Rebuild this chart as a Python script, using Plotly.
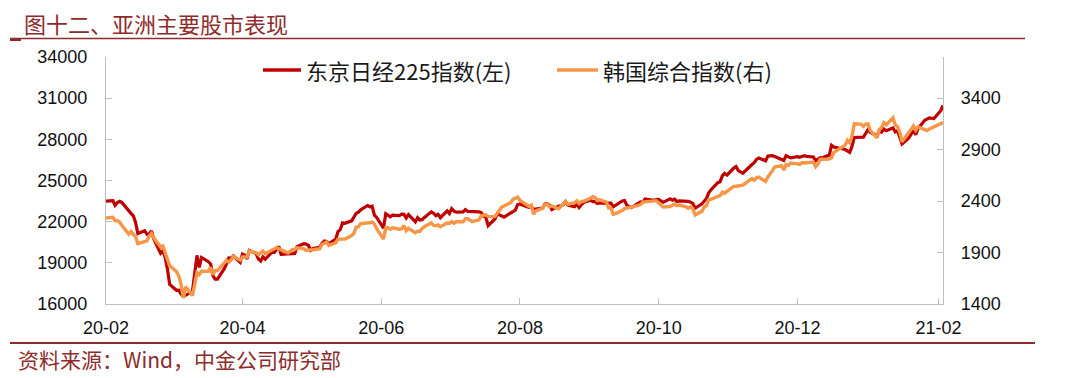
import plotly.graph_objects as go

# ---------------- data ----------------
nikkei_dates = [
"2020-02-14","2020-02-17","2020-02-18","2020-02-19","2020-02-20","2020-02-21","2020-02-25","2020-02-26","2020-02-27","2020-02-28",
"2020-03-02","2020-03-03","2020-03-04","2020-03-05","2020-03-06","2020-03-09","2020-03-10","2020-03-11","2020-03-12","2020-03-13",
"2020-03-16","2020-03-17","2020-03-18","2020-03-19","2020-03-23","2020-03-24","2020-03-25","2020-03-26","2020-03-27","2020-03-30","2020-03-31",
"2020-04-01","2020-04-02","2020-04-03","2020-04-06","2020-04-07","2020-04-08","2020-04-09","2020-04-10","2020-04-13","2020-04-14",
"2020-04-15","2020-04-16","2020-04-17","2020-04-20","2020-04-21","2020-04-22","2020-04-23","2020-04-24","2020-04-27","2020-04-28","2020-04-30",
"2020-05-01","2020-05-07","2020-05-08","2020-05-11","2020-05-12","2020-05-13","2020-05-14","2020-05-15","2020-05-18","2020-05-19",
"2020-05-20","2020-05-21","2020-05-22","2020-05-25","2020-05-26","2020-05-27","2020-05-28","2020-05-29",
"2020-06-01","2020-06-02","2020-06-03","2020-06-04","2020-06-05","2020-06-08","2020-06-09","2020-06-10","2020-06-11","2020-06-12",
"2020-06-15","2020-06-16","2020-06-17","2020-06-18","2020-06-19","2020-06-22","2020-06-23","2020-06-24","2020-06-25","2020-06-26","2020-06-29","2020-06-30",
"2020-07-01","2020-07-02","2020-07-03","2020-07-06","2020-07-07","2020-07-08","2020-07-09","2020-07-10","2020-07-13","2020-07-14",
"2020-07-15","2020-07-16","2020-07-17","2020-07-20","2020-07-21","2020-07-22","2020-07-27","2020-07-28","2020-07-29","2020-07-30","2020-07-31",
"2020-08-03","2020-08-04","2020-08-05","2020-08-06","2020-08-07","2020-08-11","2020-08-12","2020-08-13","2020-08-14","2020-08-17",
"2020-08-18","2020-08-19","2020-08-20","2020-08-21","2020-08-24","2020-08-25","2020-08-26","2020-08-27","2020-08-28","2020-08-31",
"2020-09-01","2020-09-02","2020-09-03","2020-09-04","2020-09-07","2020-09-08","2020-09-09","2020-09-10","2020-09-11","2020-09-14",
"2020-09-15","2020-09-16","2020-09-17","2020-09-18","2020-09-23","2020-09-24","2020-09-25","2020-09-28","2020-09-29","2020-09-30",
"2020-10-02","2020-10-05","2020-10-06","2020-10-07","2020-10-08","2020-10-09","2020-10-12","2020-10-13","2020-10-14","2020-10-15",
"2020-10-16","2020-10-19","2020-10-20","2020-10-21","2020-10-22","2020-10-23","2020-10-26","2020-10-27","2020-10-28","2020-10-29","2020-10-30",
"2020-11-02","2020-11-04","2020-11-05","2020-11-06","2020-11-09","2020-11-10","2020-11-11","2020-11-12","2020-11-13","2020-11-16",
"2020-11-17","2020-11-18","2020-11-19","2020-11-20","2020-11-24","2020-11-25","2020-11-26","2020-11-27","2020-11-30",
"2020-12-01","2020-12-02","2020-12-03","2020-12-04","2020-12-07","2020-12-08","2020-12-09","2020-12-10","2020-12-11","2020-12-14",
"2020-12-15","2020-12-16","2020-12-17","2020-12-18","2020-12-21","2020-12-22","2020-12-23","2020-12-24","2020-12-25","2020-12-28","2020-12-29","2020-12-30",
"2021-01-04","2021-01-05","2021-01-06","2021-01-07","2021-01-08","2021-01-12","2021-01-13","2021-01-14","2021-01-15","2021-01-18",
"2021-01-19","2021-01-20","2021-01-21","2021-01-22","2021-01-25","2021-01-26","2021-01-27","2021-01-28","2021-01-29",
"2021-02-01","2021-02-02","2021-02-03","2021-02-04","2021-02-05","2021-02-08","2021-02-09","2021-02-10","2021-02-12","2021-02-15","2021-02-16",
]
nikkei_close = [
23500,23523,23194,23401,23479,23387,22605,22426,21948,21143,
21344,21083,21100,21329,20750,19699,19867,19416,18560,17431,
17002,17012,16727,16553,16888,18092,19547,18665,19389,19085,18917,
18065,17819,17820,18576,18950,19353,19346,19499,19043,19639,
19550,19290,19897,19669,19281,19138,19429,19262,19783,19771,20194,
19619,19675,20179,20391,20366,20267,19915,20037,20134,20433,
20595,20552,20388,20742,21271,21419,21916,21878,
22062,22326,22614,22696,22864,23178,23091,23125,22473,22305,
21531,22582,22456,22355,22479,22437,22549,22534,22260,22512,21995,22288,
22122,22146,22306,22714,22615,22439,22529,22291,22785,22587,
22946,22770,22696,22717,22884,22752,22716,22657,22397,22339,21710,
22195,22574,22515,22418,22330,22750,22844,23250,23289,23097,
23051,23111,22881,22920,22986,23297,23291,23209,22883,23140,
23138,23247,23466,23205,23090,23274,23033,23235,23406,23559,
23455,23476,23319,23360,23346,23088,23205,23512,23539,23185,
23030,23312,23434,23423,23647,23620,23559,23602,23627,23507,
23411,23671,23567,23639,23474,23517,23494,23486,23419,23332,22977,
23295,23695,24105,24325,24840,24906,25350,25521,25386,25907,
26015,25728,25634,25527,26166,26297,26537,26645,26434,
26788,26801,26809,26751,26547,26467,26818,26756,26653,26732,
26688,26757,26807,26763,26714,26436,26525,26668,26657,26854,27568,27444,
27258,27159,27056,27490,28139,28164,28457,28698,28519,28242,
28633,28523,28757,28631,28822,28546,28635,28197,27663,
28091,28362,28647,28342,28779,29389,29506,29563,29520,30084,30468,
]

kospi_dates = [
"2020-02-14","2020-02-17","2020-02-18","2020-02-19","2020-02-20","2020-02-21","2020-02-24","2020-02-25","2020-02-26","2020-02-27","2020-02-28",
"2020-03-02","2020-03-03","2020-03-04","2020-03-05","2020-03-06","2020-03-09","2020-03-10","2020-03-11","2020-03-12","2020-03-13",
"2020-03-16","2020-03-17","2020-03-18","2020-03-19","2020-03-20","2020-03-23","2020-03-24","2020-03-25","2020-03-26","2020-03-27","2020-03-30","2020-03-31",
"2020-04-01","2020-04-02","2020-04-03","2020-04-06","2020-04-07","2020-04-08","2020-04-09","2020-04-10","2020-04-13","2020-04-14",
"2020-04-16","2020-04-17","2020-04-20","2020-04-21","2020-04-22","2020-04-23","2020-04-24","2020-04-27","2020-04-28","2020-04-29",
"2020-05-04","2020-05-06","2020-05-07","2020-05-08","2020-05-11","2020-05-12","2020-05-13","2020-05-14","2020-05-15","2020-05-18",
"2020-05-19","2020-05-20","2020-05-21","2020-05-22","2020-05-25","2020-05-26","2020-05-27","2020-05-28","2020-05-29",
"2020-06-01","2020-06-02","2020-06-03","2020-06-04","2020-06-05","2020-06-08","2020-06-09","2020-06-10","2020-06-11","2020-06-12",
"2020-06-15","2020-06-16","2020-06-17","2020-06-18","2020-06-19","2020-06-22","2020-06-23","2020-06-24","2020-06-25","2020-06-26","2020-06-29","2020-06-30",
"2020-07-01","2020-07-02","2020-07-03","2020-07-06","2020-07-07","2020-07-08","2020-07-09","2020-07-10","2020-07-13","2020-07-14",
"2020-07-15","2020-07-16","2020-07-17","2020-07-20","2020-07-21","2020-07-22","2020-07-23","2020-07-24","2020-07-27","2020-07-28",
"2020-07-29","2020-07-30","2020-07-31",
"2020-08-03","2020-08-04","2020-08-05","2020-08-06","2020-08-07","2020-08-10","2020-08-11","2020-08-12","2020-08-13","2020-08-14",
"2020-08-18","2020-08-19","2020-08-20","2020-08-21","2020-08-24","2020-08-25","2020-08-26","2020-08-27","2020-08-28","2020-08-31",
"2020-09-01","2020-09-02","2020-09-03","2020-09-04","2020-09-07","2020-09-08","2020-09-09","2020-09-10","2020-09-11","2020-09-14",
"2020-09-15","2020-09-16","2020-09-17","2020-09-18","2020-09-21","2020-09-22","2020-09-23","2020-09-24","2020-09-25","2020-09-28","2020-09-29",
"2020-10-05","2020-10-06","2020-10-07","2020-10-08","2020-10-12","2020-10-13","2020-10-14","2020-10-15","2020-10-16","2020-10-19",
"2020-10-20","2020-10-21","2020-10-22","2020-10-23","2020-10-26","2020-10-27","2020-10-28","2020-10-29","2020-10-30",
"2020-11-02","2020-11-03","2020-11-04","2020-11-05","2020-11-06","2020-11-09","2020-11-10","2020-11-11","2020-11-12","2020-11-13",
"2020-11-16","2020-11-17","2020-11-18","2020-11-19","2020-11-20","2020-11-23","2020-11-24","2020-11-25","2020-11-26","2020-11-27","2020-11-30",
"2020-12-01","2020-12-02","2020-12-03","2020-12-04","2020-12-07","2020-12-08","2020-12-09","2020-12-10","2020-12-11","2020-12-14",
"2020-12-15","2020-12-16","2020-12-17","2020-12-18","2020-12-21","2020-12-22","2020-12-23","2020-12-24","2020-12-28","2020-12-29","2020-12-30",
"2021-01-04","2021-01-05","2021-01-06","2021-01-07","2021-01-08","2021-01-11","2021-01-12","2021-01-13","2021-01-14","2021-01-15",
"2021-01-18","2021-01-19","2021-01-20","2021-01-21","2021-01-22","2021-01-25","2021-01-26","2021-01-27","2021-01-28","2021-01-29",
"2021-02-01","2021-02-02","2021-02-03","2021-02-04","2021-02-05","2021-02-08","2021-02-09","2021-02-10","2021-02-15","2021-02-16",
]
kospi_close = [
2236,2242,2209,2210,2196,2163,2079,2104,2077,2055,1987,
2003,2014,2059,2085,2040,1955,1963,1908,1834,1771,
1715,1672,1591,1458,1566,1482,1610,1705,1686,1718,1717,1755,
1685,1725,1725,1792,1824,1807,1827,1861,1826,1857,
1857,1915,1898,1879,1896,1914,1889,1923,1934,1948,
1895,1929,1929,1946,1935,1922,1925,1924,1927,1937,
1981,1990,2003,1970,1995,2030,2031,2029,2030,
2065,2087,2147,2151,2182,2184,2189,2196,2177,2132,
2031,2138,2141,2127,2141,2127,2131,2162,2112,2135,2093,2108,
2107,2135,2152,2188,2164,2162,2168,2150,2186,2184,
2201,2184,2201,2198,2229,2228,2216,2200,2218,2257,
2263,2267,2249,
2251,2280,2312,2343,2352,2386,2419,2432,2438,2407,
2348,2361,2274,2305,2330,2368,2369,2344,2354,2326,
2350,2364,2396,2368,2384,2402,2376,2396,2397,2428,
2444,2436,2406,2412,2389,2333,2333,2273,2279,2308,2328,
2358,2366,2390,2392,2403,2404,2380,2361,2342,2347,
2358,2371,2355,2361,2344,2331,2345,2327,2267,
2300,2343,2357,2414,2417,2447,2453,2486,2476,2494,
2543,2544,2546,2547,2554,2603,2618,2602,2626,2633,2591,
2634,2673,2696,2731,2745,2701,2755,2746,2770,2762,
2757,2772,2770,2772,2779,2734,2760,2807,2809,2821,2873,
2944,2991,2968,3032,3152,3148,3126,3148,3150,3086,
3014,3093,3115,3161,3141,3209,3140,3123,3069,2976,
3057,3097,3130,3088,3121,3091,3085,3101,3147,3163,
]

x_tick_vals = ["2020-02-14", "2020-04-14", "2020-06-14", "2020-08-14",
               "2020-10-14", "2020-12-14", "2021-02-14"]
x_tick_text = ["20-02", "20-04", "20-06", "20-08", "20-10", "20-12", "21-02"]
left_ticks = [16000, 19000, 22000, 25000, 28000, 31000, 34000]
right_ticks = [1400, 1900, 2400, 2900, 3400]

series_names = ["东京日经225指数(左)", "韩国综合指数(右)"]
title_text = "图十二、亚洲主要股市表现"
source_text = "资料来源：Wind，中金公司研究部"

# ---------------- layout helpers ----------------
W, H = 1080, 378
L, R, T, B = 106, 943, 57, 304          # plot area in pixels


def px(x):
    return (x - L) / (R - L)


def py(y):
    return (B - y) / (B - T)


RED = "#C00000"
ORANGE = "#F79646"
BRAND = "#8E2C2C"
AXIS = "#BFBFBF"
TICKFONT = dict(family="Liberation Sans, Arial, sans-serif", size=18, color="#111111")
CJK = "Noto Sans CJK SC"

fig = go.Figure()
fig.add_trace(go.Scatter(x=nikkei_dates, y=nikkei_close, mode="lines",
                         name=series_names[0], line=dict(color=RED, width=3.2),
                         yaxis="y", showlegend=False))
fig.add_trace(go.Scatter(x=kospi_dates, y=kospi_close, mode="lines",
                         name=series_names[1], line=dict(color=ORANGE, width=3.4),
                         yaxis="y2", showlegend=False))

fig.update_layout(
    width=W, height=H,
    margin=dict(l=L, r=W - R, t=T, b=H - B, pad=0),
    paper_bgcolor="white", plot_bgcolor="white",
    xaxis=dict(type="date", range=["2020-02-14", "2021-02-16"],
               tickvals=x_tick_vals, ticktext=x_tick_text,
               showline=True, linecolor=AXIS, linewidth=1.3,
               ticks="inside", ticklen=6, tickcolor=AXIS, tickwidth=1,
               showgrid=False, zeroline=False, tickfont=TICKFONT,
               ticklabelstandoff=7),
    yaxis=dict(range=[16000, 34000], tickvals=left_ticks,
               ticktext=[str(v) for v in left_ticks],
               showline=True, linecolor=AXIS, linewidth=1.3,
               ticks="inside", ticklen=6, tickcolor=AXIS,
               showgrid=False, zeroline=False, tickfont=TICKFONT,
               ticklabelstandoff=14),
    yaxis2=dict(range=[1400, 3800], tickvals=right_ticks,
                ticktext=[str(v) for v in right_ticks],
                overlaying="y", side="right",
                showline=True, linecolor=AXIS, linewidth=1.3,
                ticks="inside", ticklen=6, tickcolor=AXIS,
                showgrid=False, zeroline=False, tickfont=TICKFONT,
                ticklabelstandoff=13),
)

shapes = []
annotations = []

# title and rule
annotations.append(dict(text=title_text, xref="paper", yref="paper",
                        x=px(22), y=py(23), xanchor="left", yanchor="middle",
                        showarrow=False, font=dict(family=CJK, size=22, color=BRAND)))
shapes.append(dict(type="line", xref="paper", yref="paper", x0=px(10), x1=px(1025),
                   y0=py(38.5), y1=py(38.5), line=dict(color=BRAND, width=1.5)))
shapes.append(dict(type="line", xref="paper", yref="paper", x0=px(10), x1=px(21),
                   y0=py(39.5), y1=py(39.5), line=dict(color=BRAND, width=3)))

# source rule and text
shapes.append(dict(type="line", xref="paper", yref="paper", x0=px(10), x1=px(1035),
                   y0=py(343), y1=py(343), line=dict(color=BRAND, width=2)))
annotations.append(dict(text=source_text, xref="paper", yref="paper",
                        x=px(16), y=py(359), xanchor="left", yanchor="middle",
                        showarrow=False, font=dict(family=CJK, size=21, color=BRAND)))

# legend (drawn manually)
leg = [(263, 301, RED, series_names[0]), (557, 598, ORANGE, series_names[1])]
for x0, x1, col, name in leg:
    shapes.append(dict(type="line", xref="paper", yref="paper", x0=px(x0), x1=px(x1),
                       y0=py(70), y1=py(70), line=dict(color=col, width=3.5)))
    annotations.append(dict(text=name, xref="paper", yref="paper",
                            x=px(x1 + 3), y=py(70), xanchor="left", yanchor="middle",
                            showarrow=False,
                            font=dict(family=CJK + ", Liberation Sans", size=22, color="#1a1a1a")))

fig.update_layout(shapes=shapes, annotations=annotations)
fig.write_html("out.html")
